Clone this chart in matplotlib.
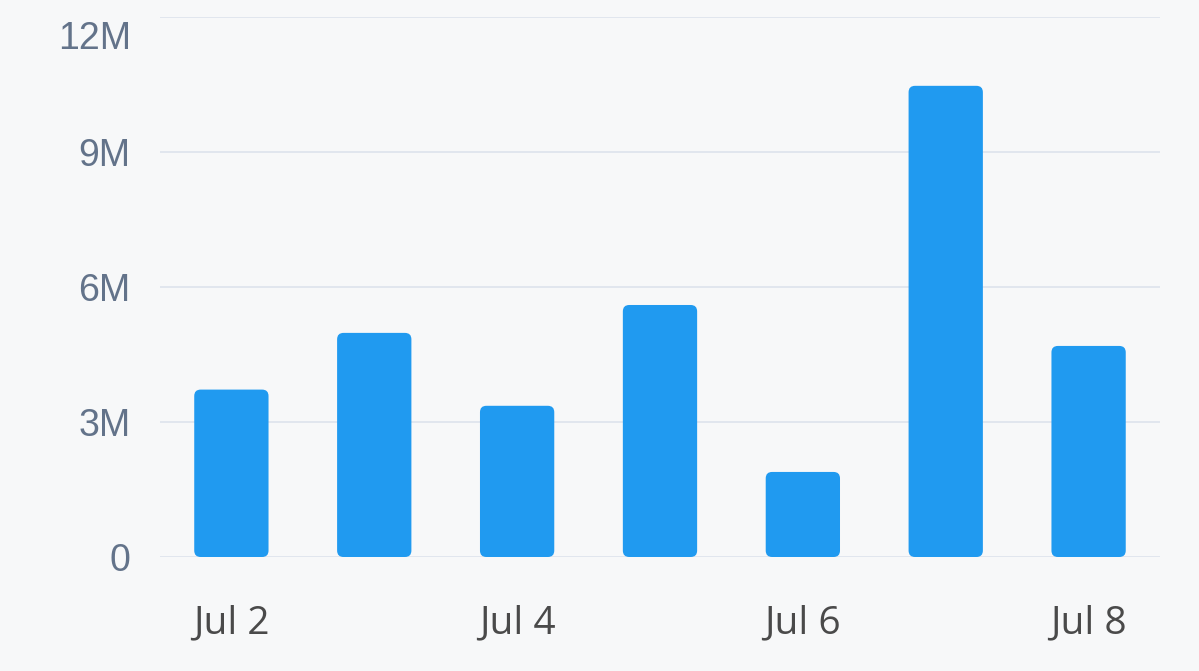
import matplotlib
matplotlib.use("Agg")
import matplotlib.pyplot as plt
import matplotlib.transforms as mtransforms
from matplotlib.patches import FancyBboxPatch

# data (values in millions)
days = ["Jul 2", "Jul 3", "Jul 4", "Jul 5", "Jul 6", "Jul 7", "Jul 8"]
values = [3.72, 4.98, 3.36, 5.6, 1.89, 10.47, 4.69]
y_ticks = [0, 3, 6, 9, 12]
y_labels = ["0", "3M", "6M", "9M", "12M"]

bg = "#f7f8f9"
bar_color = "#209af0"

plt.rcParams["font.family"] = ["Open Sans", "DejaVu Sans"]

fig = plt.figure(figsize=(11.99, 6.71), dpi=100, facecolor=bg)
ax = fig.add_axes([0.1334, 0.1699, 0.8341, 0.8048])
ax.set_facecolor(bg)

ax.set_xlim(-0.5, len(days) - 0.5)
ax.set_ylim(0, 12)

width = 0.52
# px per unit -> used to keep the corner rounding circular
bbox = ax.get_window_extent()
px_x = bbox.width / len(days)
px_y = bbox.height / 12
for i, v in enumerate(values):
    p = FancyBboxPatch((i - width / 2, 0), width, v,
                       boxstyle="round,pad=0,rounding_size=0.045",
                       mutation_aspect=px_x / px_y,
                       facecolor=bar_color, edgecolor="none", zorder=3)
    ax.add_patch(p)

ax.set_yticks(y_ticks)
ax.set_yticklabels(y_labels, family=["Liberation Sans", "DejaVu Sans"])
ax.set_xticks(range(0, len(days), 2))
ax.set_xticklabels(days[::2])

ax.grid(axis="y", color="#dde3ec", linewidth=1.2, zorder=0)
ax.grid(axis="x", visible=False)
for s in ax.spines.values():
    s.set_visible(False)

ax.tick_params(axis="y", length=0, pad=21, labelsize=27, labelcolor="#63738a")
ax.tick_params(axis="x", length=0, pad=34, labelsize=28, labelcolor="#4a4a4a")

# top label sits just below its grid line
top = ax.get_yticklabels()[-1]
top.set_verticalalignment("top")
top.set_transform(top.get_transform() + mtransforms.ScaledTranslation(0, -3 / 72, fig.dpi_scale_trans))

fig.savefig("out.png", dpi=100, facecolor=bg)
